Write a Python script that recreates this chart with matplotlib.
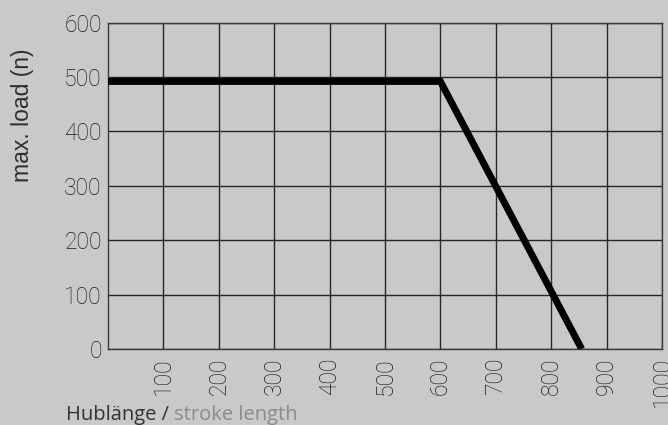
import matplotlib
matplotlib.use("Agg")
import matplotlib.pyplot as plt

stroke = [0, 600, 855]
load = [492, 492, 0]
xticks = [100, 200, 300, 400, 500, 600, 700, 800, 900, 1000]
yticks = [0, 100, 200, 300, 400, 500, 600]

bg = "#c8c9cb"
fig = plt.figure(figsize=(6.68, 4.25), dpi=100, facecolor=bg)
ax = fig.add_axes([108/668, 1-349/425, (662-108)/668, (349-22.7)/425])
ax.set_facecolor(bg)
ax.set_xlim(0, 1000)
ax.set_ylim(0, 600)
ax.set_xticks(xticks)
ax.set_yticks(yticks)
ax.grid(True, color="#262626", linewidth=1.0)
ax.set_axisbelow(True)
for s in ax.spines.values():
    s.set_color("#3a3a3a")
    s.set_linewidth(1.0)
ax.plot(stroke, load, color="black", linewidth=5, solid_capstyle="butt", solid_joinstyle="miter", zorder=3)

tick_font = dict(fontfamily="Roboto", fontweight="light", fontsize=16.5, color="#1a1a1a")
ax.tick_params(length=0)
ax.set_xticklabels([str(v) for v in xticks], rotation=90, **tick_font)
ax.set_yticklabels([str(v) for v in yticks], **tick_font)
ax.tick_params(axis="x", pad=6)
ax.tick_params(axis="y", pad=4.5)
for lab in ax.get_xticklabels():
    lab.set_rotation_mode("anchor")
    lab.set_ha("right")
    lab.set_va("center")

fig.text(23/668, 1-115/425, "max. load (n)", rotation=90, ha="center", va="center",
         fontfamily="Liberation Sans", fontsize=16.5, color="#2e2e2e")

t1 = fig.text(66/668, 1-420/425, "Hublänge / ", ha="left", va="baseline",
              fontfamily="Open Sans", fontsize=14.5, color="#333333")
fig.canvas.draw()
bb = t1.get_window_extent()
fig.text(bb.x1/668, 1-420/425, "stroke length", ha="left", va="baseline",
         fontfamily="Open Sans", fontsize=14.5, color="#8a8b8d")

fig.savefig("out.png", dpi=100, facecolor=bg)
